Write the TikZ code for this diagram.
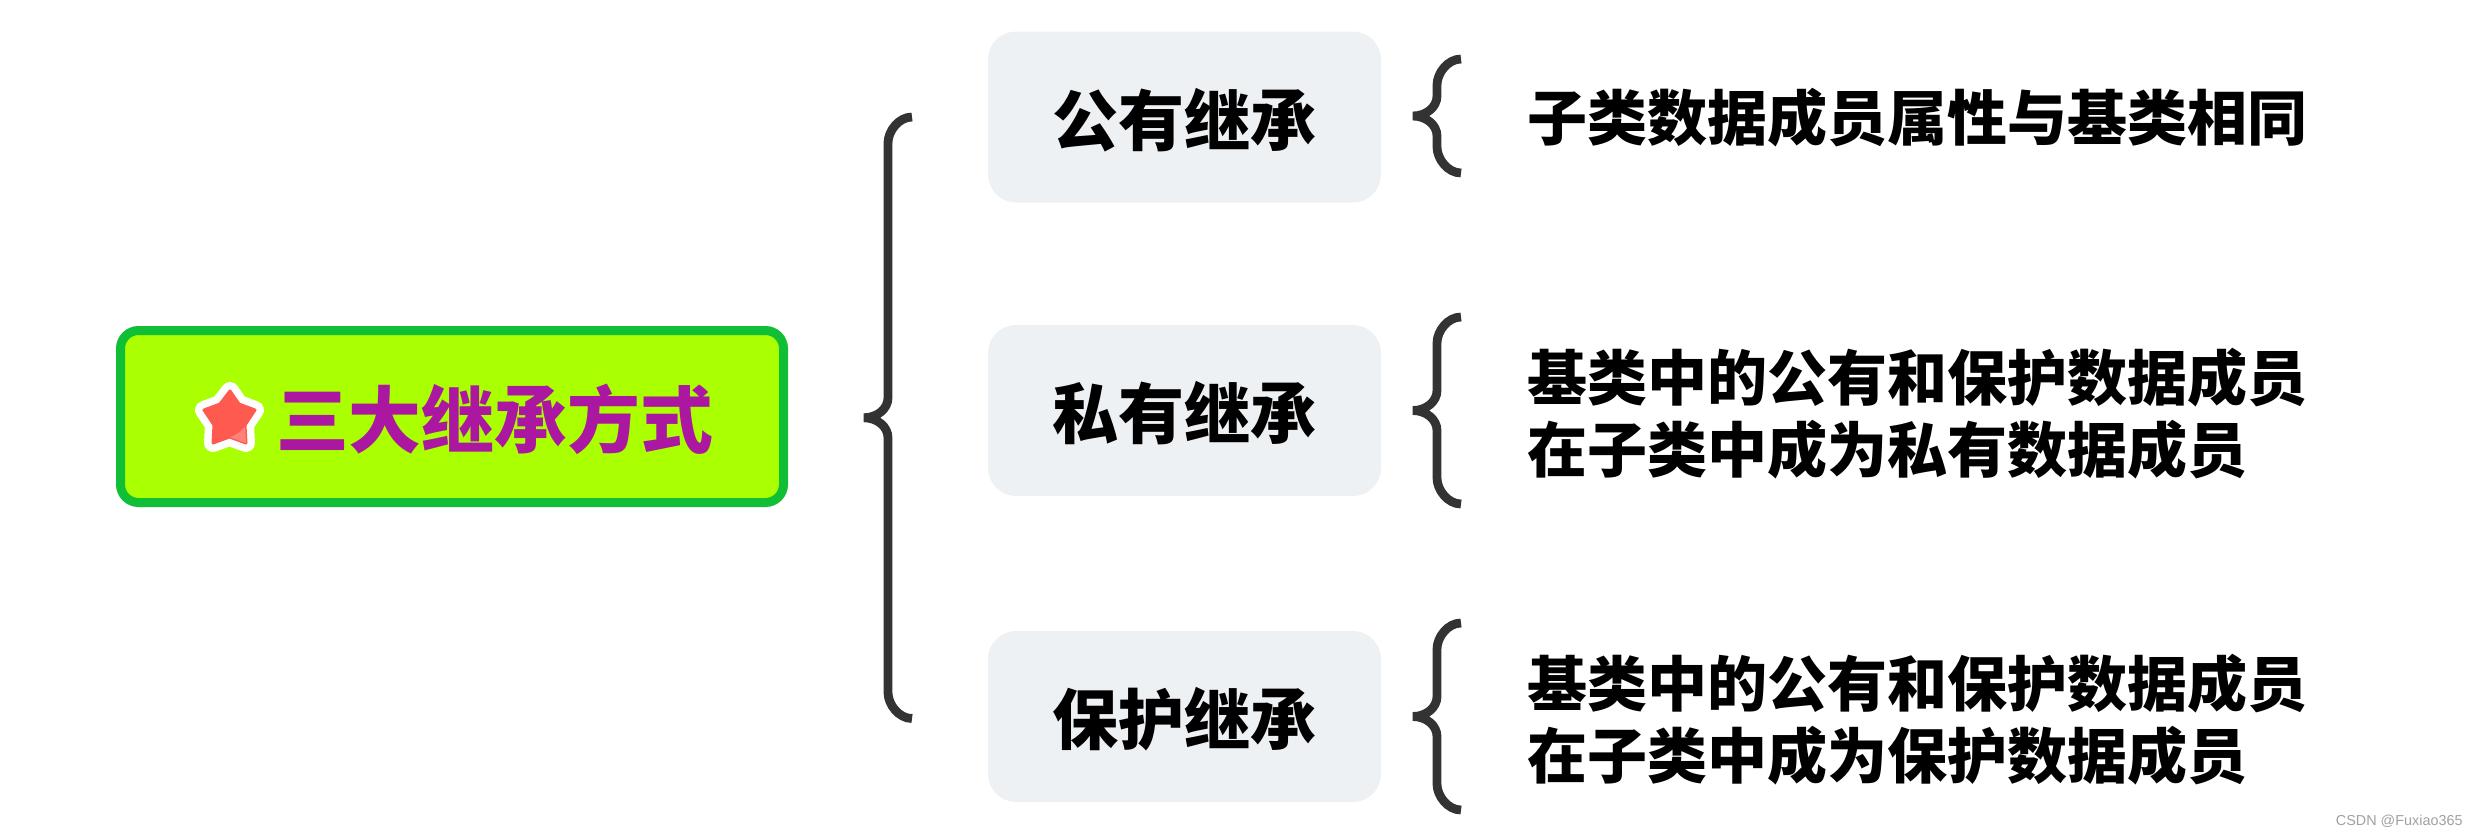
\documentclass[tikz,border=0pt]{standalone}
\usepackage{xcolor}
\usepackage{fontspec}
\setmainfont{Liberation Sans}
\newfontfamily\cjk{Noto Sans CJK SC}
\usetikzlibrary{positioning,calc}
\definecolor{rootfill}{HTML}{AAFF00}
\definecolor{rootline}{HTML}{10BF36}
\definecolor{titlecol}{HTML}{AB17A0}
\definecolor{boxfill}{HTML}{EEF1F4}
\definecolor{bracecol}{HTML}{333333}
\definecolor{starred}{HTML}{FF5A4F}
\definecolor{starlight}{HTML}{FF8278}
\definecolor{markgray}{HTML}{A0A0A0}

\begin{document}
\begin{tikzpicture}[
    x=0.5pt, y=-0.5pt,
    rootbox/.style={draw=rootline, line width=4.5pt, fill=rootfill, rounded corners=9pt, minimum width=331.5pt, minimum height=86pt, inner sep=0pt},
    title/.style={inner sep=0pt, text=titlecol, font=\cjk\bfseries\fontsize{36.4}{40}\selectfont},
    branch/.style={fill=boxfill, rounded corners=14pt, minimum width=196.5pt, minimum height=85.5pt, inner sep=0pt, text=black, text height=30pt, text depth=2pt, font=\cjk\bfseries\fontsize{33}{38}\selectfont},
    note/.style={inner sep=0pt, align=left, text=black, font=\cjk\bfseries\fontsize{30}{36}\selectfont},
    curly/.style={draw=bracecol, line width=4.4pt, to path={
        let \p1=(\tikztostart), \p2=(\tikztotarget), \n1={0.5*(\y1+\y2)} in
        (\p1) .. controls +(-6.6pt,0) and (\x1-12pt,\y1-7pt) .. (\x1-12pt,\y1-13pt)
        -- (\x1-12pt,\n1+10pt) .. controls (\x1-12pt,\n1+4.5pt) and (\x1-17.4pt,\n1) .. (\x1-24pt,\n1)
        .. controls (\x1-17.4pt,\n1) and (\x1-12pt,\n1-4.5pt) .. (\x1-12pt,\n1-10pt)
        -- (\x1-12pt,\y2+13pt) .. controls (\x1-12pt,\y2+7pt) and (\x1-6.6pt,\y2) .. (\p2)}},
    stamp/.style={inner sep=0pt, text=markgray, font=\fontsize{7.2}{9}\selectfont}
]
\useasboundingbox (0,0) rectangle (2478,836);
\node[rootbox] (root) at (452,416.5) {};
\node[title] (rootname) at (494.5,419) {三大继承方式};
% star in front of the title
\def\starpath{(230,391) -- (239,404) -- (255,410) -- (245,425) -- (246,443) -- (229.5,437) -- (213,443) -- (214,425) -- (204,410) -- (220,404) -- cycle}
\draw[draw=white, line width=9pt, line join=round, fill=white] \starpath;
\draw[draw=starred, fill=starred, line width=1.5pt, line join=round] \starpath;
\begin{scope}
\clip \starpath;
\fill[starlight] (248,423) .. controls (241,432) and (235,436) .. (226,438.5) -- (226,452) -- (252,452) -- cycle;
\end{scope}
\node[branch] (pub) at (1184.5,117) {公有继承};
\node[branch] (pri) at (1184.5,410.5) {私有继承};
\node[branch] (pro) at (1184.5,716.5) {保护继承};
\node[note, right=73pt of pub, yshift=-0.5pt] (pubnote) {子类数据成员属性与基类相同};
\node[note, right=73pt of pri, yshift=-1.5pt] (prinote) {基类中的公有和保护数据成员\\在子类中成为私有数据成员};
\node[note, right=73pt of pro, yshift=-1.5pt] (pronote) {基类中的公有和保护数据成员\\在子类中成为保护数据成员};
\coordinate (bigtop) at (912,117);
\coordinate (bigend) at (912,718.5);
\coordinate (pubtop) at (1461,59);
\coordinate (pubend) at (1461,173);
\coordinate (pritop) at (1461,317);
\coordinate (priend) at (1461,504);
\coordinate (protop) at (1461,623);
\coordinate (proend) at (1461,810);
\draw[curly] (bigtop) to (bigend);
\draw[curly] (pubtop) to (pubend);
\draw[curly] (pritop) to (priend);
\draw[curly] (protop) to (proend);
\node[stamp, anchor=east] (mark) at (2463,821) {CSDN @Fuxiao365};
\end{tikzpicture}
\end{document}
